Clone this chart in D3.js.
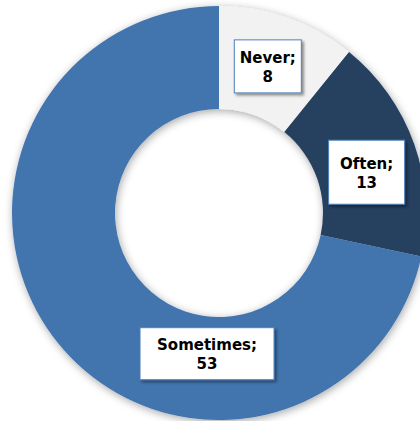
<!DOCTYPE html>
<html>
<head>
<meta charset="utf-8">
<script src="https://cdn.jsdelivr.net/npm/d3@7/dist/d3.min.js"></script>
<style>
  html, body { margin: 0; padding: 0; background: #ffffff; }
  svg { display: block; }
</style>
</head>
<body>
<script>
// Survey answers and their counts
const categories = ["Never", "Often", "Sometimes"];
const values = [8, 13, 53];
const colors = ["#F2F2F2", "#254061", "#4374AE"];

// Label box layout: size and nudge from the slice centroid
const labelLayout = {
  Never:     { w: 67,  h: 53, dx: -3,  dy: 0 },
  Often:     { w: 76,  h: 64, dx: 1,   dy: 11 },
  Sometimes: { w: 134, h: 52, dx: 109, dy: 43 }
};

const width = 420, height = 421;
const cx = 219, cy = 213;
const outerR = 207, innerR = 104;

const svg = d3.select("body").append("svg")
  .attr("width", width)
  .attr("height", height);

const defs = svg.append("defs");
defs.append("filter")
  .attr("id", "ringShadow")
  .attr("x", "-20%").attr("y", "-20%")
  .attr("width", "140%").attr("height", "140%")
  .append("feDropShadow")
  .attr("dx", 1).attr("dy", 2)
  .attr("stdDeviation", 4)
  .attr("flood-color", "#000")
  .attr("flood-opacity", 0.35);

defs.append("filter")
  .attr("id", "boxShadow")
  .attr("x", "-20%").attr("y", "-20%")
  .attr("width", "140%").attr("height", "140%")
  .append("feDropShadow")
  .attr("dx", 2).attr("dy", 2)
  .attr("stdDeviation", 1.5)
  .attr("flood-color", "#000")
  .attr("flood-opacity", 0.45);

const data = categories.map((c, i) => ({ name: c, value: values[i], color: colors[i] }));

const pie = d3.pie()
  .value(d => d.value)
  .sort(null);

const arc = d3.arc()
  .innerRadius(innerR)
  .outerRadius(outerR);

const arcs = pie(data);

const ring = svg.append("g")
  .attr("transform", `translate(${cx},${cy})`)
  .attr("filter", "url(#ringShadow)");

ring.selectAll("path")
  .data(arcs)
  .join("path")
  .attr("d", arc)
  .attr("fill", d => d.data.color);

// Data labels: boxed "Name; value"
const labels = svg.append("g")
  .attr("transform", `translate(${cx},${cy})`)
  .attr("font-family", "'DejaVu Sans', Verdana, sans-serif")
  .attr("font-weight", "bold")
  .attr("font-size", 15)
  .attr("fill", "#000");

arcs.forEach(a => {
  const lay = labelLayout[a.data.name];
  const [mx, my] = arc.centroid(a);
  const x = mx + lay.dx, y = my + lay.dy;
  const g = labels.append("g").attr("transform", `translate(${x},${y})`);
  g.append("rect")
    .attr("x", -lay.w / 2)
    .attr("y", -lay.h / 2)
    .attr("width", lay.w)
    .attr("height", lay.h)
    .attr("fill", "#ffffff")
    .attr("stroke", "#4F81BD")
    .attr("stroke-width", 1)
    .attr("filter", "url(#boxShadow)");
  g.append("text")
    .attr("text-anchor", "middle")
    .attr("y", -3.5)
    .text(a.data.name + ";");
  g.append("text")
    .attr("text-anchor", "middle")
    .attr("y", 15.5)
    .text(a.data.value);
});
</script>
</body>
</html>
